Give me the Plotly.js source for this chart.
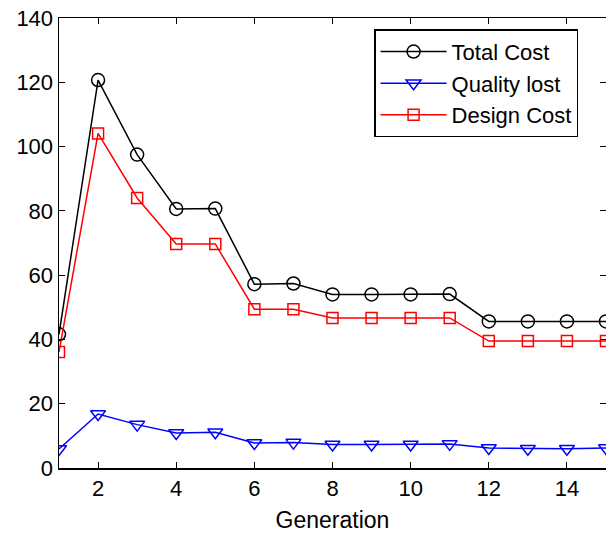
<!DOCTYPE html>
<html>
<head>
<meta charset="utf-8">
<script src="https://cdn.plot.ly/plotly-3.0.1.min.js"></script>
<style>html,body{margin:0;padding:0;background:#fff;}#chart{width:606px;height:536px;}</style>
</head>
<body>
<div id="chart"></div>
<script>
const generations = [1,2,3,4,5,6,7,8,9,10,11,12,13,14,15];
const totalCost   = [41.6,120.7,97.5,80.6,80.7,57.2,57.4,54.0,54.0,54.0,54.1,45.6,45.6,45.6,45.6];
const qualityLost = [5.9,16.8,13.5,10.9,11.1,7.8,7.9,7.3,7.3,7.3,7.5,6.2,6.0,6.0,6.2];
const designCost  = [36.1,104.1,84.0,69.7,69.7,49.4,49.4,46.7,46.7,46.7,46.7,39.5,39.5,39.5,39.5];
const xTicks = [2,4,6,8,10,12,14];
const yTicks = [0,20,40,60,80,100,120,140];

const fam = 'Liberation Sans, Arial, Helvetica, sans-serif';
const tickFont = {family: fam, size: 22, color: '#000'};
const legendFont = {family: fam, size: 22, color: '#000'};
const titleFont = {family: fam, size: 23, color: '#000'};

const traces = [
  {x: generations, y: totalCost, name: 'Total Cost', mode: 'lines+markers',
   line: {color: '#000', width: 1.5},
   marker: {symbol: 'circle-open', size: 13, color: '#000', line: {width: 1.5, color: '#000'}}},
  {x: generations, y: qualityLost, name: 'Quality lost', mode: 'lines+markers',
   line: {color: '#0000ff', width: 1.5},
   marker: {symbol: 'triangle-down-open', size: 13, color: '#0000ff', line: {width: 1.5, color: '#0000ff'}}},
  {x: generations, y: designCost, name: 'Design Cost', mode: 'lines+markers',
   line: {color: '#ff0000', width: 1.5},
   marker: {symbol: 'square-open', size: 11, color: '#ff0000', line: {width: 1.5, color: '#ff0000'}}}
];

const layout = {
  width: 606, height: 536,
  margin: {l: 59, r: 0, t: 18, b: 68},
  paper_bgcolor: '#fff', plot_bgcolor: '#fff',
  font: tickFont,
  showlegend: true,
  legend: {x: 0.576, y: 0.975, xanchor: 'left', yanchor: 'top',
           bordercolor: '#000', borderwidth: 1.5, bgcolor: '#fff',
           font: legendFont, itemwidth: 66, tracegroupgap: 0},
  xaxis: {range: [1, 15], tickvals: xTicks, ticktext: xTicks.map(String),
          ticks: 'inside', ticklen: 6, tickcolor: '#000', tickwidth: 1,
          showline: true, linecolor: '#000', linewidth: 1.5, mirror: 'ticks',
          showgrid: false, zeroline: false, tickfont: tickFont,
          title: {text: 'Generation', font: titleFont, standoff: 12}},
  yaxis: {range: [0, 140], tickvals: yTicks, ticktext: yTicks.map(String),
          ticks: 'inside', ticklen: 6, tickcolor: '#000', tickwidth: 1,
          showline: true, linecolor: '#000', linewidth: 1.5, mirror: 'ticks',
          showgrid: false, zeroline: false, tickfont: tickFont}
};

Plotly.newPlot('chart', traces, layout, {displayModeBar: false, staticPlot: true});
</script>
</body>
</html>
